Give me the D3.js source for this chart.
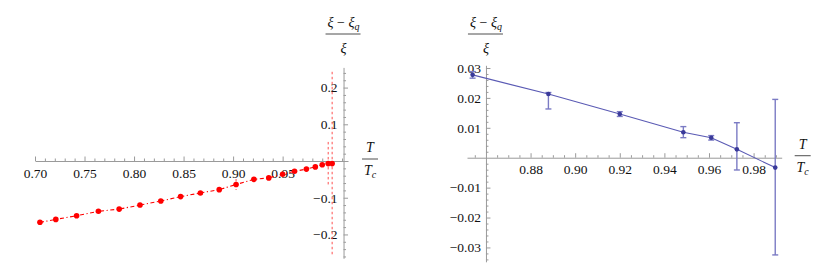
<!DOCTYPE html>
<html>
<head>
<meta charset="utf-8">
<style>
    body { margin: 0; background: #fff; }
    svg { display: block; font-family: 'Liberation Serif', 'DejaVu Serif', serif; }
    .lab { font-size: 14px; fill: #111; }
</style>
</head>
<body>
<svg width="830" height="273"></svg>
<script src="https://d3js.org/d3.v7.min.js"></script>
<script>
    // left panel: red dot-dashed series
    const leftT = [0.705, 0.721, 0.742, 0.764, 0.785, 0.806, 0.827, 0.847, 0.867, 0.886,
                   0.903, 0.921, 0.936, 0.950, 0.962, 0.974, 0.983, 0.990, 0.996, 1.000];
    const leftRatio = [-0.167, -0.159, -0.149, -0.137, -0.131, -0.120, -0.109, -0.097, -0.087, -0.078,
                       -0.064, -0.050, -0.046, -0.036, -0.028, -0.022, -0.016, -0.010, -0.007, -0.007];
    const leftErr = [0, 0, 0, 0, 0, 0, 0, 0, 0, 0,
                     0.015, 0, 0, 0, 0, 0, 0, 0, 0.059, 0.25];
    const leftXTicks = [0.70, 0.75, 0.80, 0.85, 0.90, 0.95];
    const leftYTicks = [-0.2, -0.1, 0.1, 0.2];

    // right panel: blue series with asymmetric error bars
    const rightT = [0.854, 0.888, 0.920, 0.9485, 0.961, 0.9725, 0.9897];
    const rightRatio = [0.0277, 0.0213, 0.0146, 0.0085, 0.0067, 0.0028, -0.0033];
    const rightErrHi = [0.0288, 0.0218, 0.0154, 0.0104, 0.0074, 0.0117, 0.0195];
    const rightErrLo = [0.0266, 0.0163, 0.0138, 0.0067, 0.0059, -0.0041, -0.0325];
    const rightXTicks = [0.88, 0.90, 0.92, 0.94, 0.96, 0.98];
    const rightYTicks = [-0.03, -0.02, -0.01, 0.01, 0.02, 0.03];

    const svg = d3.select("svg");
    const axisGrey = "#9a9a9a";

    function styleAxis(g) {
        g.selectAll(".domain").attr("stroke", axisGrey);
        g.selectAll(".tick line").attr("stroke", axisGrey);
        g.selectAll(".tick text")
            .attr("fill", "#111")
            .style("font-family", "'Liberation Serif', serif")
            .style("font-size", "13.5px");
    }

    function drawAxes(p) {
        let x0 = p.x(p.originX), y0 = p.y(0);

        // minor ticks first, then major ticks with labels
        svg.append("g")
            .attr("transform", `translate(0,${y0})`)
            .call(d3.axisBottom(p.x).tickValues(p.xMinor).tickSize(-2.5).tickSizeOuter(0).tickFormat(""))
            .call(styleAxis);
        svg.append("g")
            .attr("transform", `translate(0,${y0})`)
            .call(d3.axisBottom(p.x).tickValues(p.xTicks).tickSize(-4.5).tickSizeOuter(0).tickPadding(7)
                .tickFormat(d3.format(p.xFmt)))
            .call(g => g.select(".domain").remove())
            .call(styleAxis);

        svg.append("g")
            .attr("transform", `translate(${x0},0)`)
            .call(d3.axisLeft(p.y).tickValues(p.yMinor).tickSize(-2.5).tickSizeOuter(0).tickFormat(""))
            .call(styleAxis);
        svg.append("g")
            .attr("transform", `translate(${x0},0)`)
            .call(d3.axisLeft(p.y).tickValues(p.yTicks).tickSize(-4.5).tickSizeOuter(0).tickPadding(p.yPad)
                .tickFormat(d3.format(p.yFmt)))
            .call(g => g.select(".domain").remove())
            .call(styleAxis);

        // y label: (xi - xi_q) / xi
        let num = svg.append("text").attr("class", "lab")
            .attr("x", x0).attr("y", 27).attr("text-anchor", "middle");
        num.append("tspan").attr("font-style", "italic").text("ξ");
        num.append("tspan").text(" − ");
        num.append("tspan").attr("font-style", "italic").text("ξ");
        num.append("tspan").attr("font-style", "italic").attr("font-size", "10px").attr("dy", 3).text("q");
        svg.append("line").attr("x1", x0 - 18).attr("x2", x0 + 17).attr("y1", 34).attr("y2", 34)
            .attr("stroke", "#222").attr("stroke-width", 0.8);
        svg.append("text").attr("class", "lab").attr("font-style", "italic")
            .attr("x", x0).attr("y", 53).attr("text-anchor", "middle").text("ξ");

        // x label: T / T_c
        let xr = p.x.range()[1] + p.xLabGap;
        svg.append("text").attr("class", "lab").attr("font-style", "italic")
            .attr("x", xr).attr("y", y0 - 9).attr("text-anchor", "middle").text("T");
        svg.append("line").attr("x1", xr - 8).attr("x2", xr + 8).attr("y1", y0 - 2).attr("y2", y0 - 2)
            .attr("stroke", "#222").attr("stroke-width", 0.8);
        let tc = svg.append("text").attr("class", "lab")
            .attr("x", xr).attr("y", y0 + 14).attr("text-anchor", "middle");
        tc.append("tspan").attr("font-style", "italic").text("T");
        tc.append("tspan").attr("font-style", "italic").attr("font-size", "10px").attr("dy", 3).text("c");
    }

    // ---- left panel
    const xL = d3.scaleLinear().domain([0.70, 1.016]).range([35, 348]);
    const yL = d3.scaleLinear().domain([-0.265, 0.255]).range([258.3, 67.4]);

    drawAxes({
        x: xL, y: yL, originX: 1.0115,
        xTicks: leftXTicks, xMinor: d3.range(0.70, 1.0151, 0.01).filter(v => Math.abs(v * 20 - Math.round(v * 20)) > 1e-6),
        yTicks: leftYTicks, yMinor: d3.range(-0.26, 0.2501, 0.02).filter(v => Math.abs(v * 10 - Math.round(v * 10)) > 1e-6),
        xFmt: ".2f", yFmt: ".1f", yPad: 6, xLabGap: 22
    });

    const leftData = leftT.map((t, i) => ({ t: t, r: leftRatio[i], e: leftErr[i] }));

    svg.append("g").selectAll("line")
        .data(leftData.filter(d => d.e > 0))
        .join("line")
        .attr("x1", d => xL(d.t)).attr("x2", d => xL(d.t))
        .attr("y1", d => yL(d.r + d.e)).attr("y2", d => yL(d.r - d.e))
        .attr("stroke", "#ff5050").attr("stroke-width", 1).attr("stroke-dasharray", "2.5,2.5");

    svg.append("path")
        .datum(leftData)
        .attr("fill", "none")
        .attr("stroke", "#ff0000")
        .attr("stroke-width", 1.1)
        .attr("stroke-dasharray", "4,2.5,1.2,2.5")
        .attr("d", d3.line().x(d => xL(d.t)).y(d => yL(d.r)));

    svg.append("g").selectAll("circle")
        .data(leftData)
        .join("circle")
        .attr("cx", d => xL(d.t)).attr("cy", d => yL(d.r))
        .attr("r", 2.8).attr("fill", "#ff0000");

    // ---- right panel
    const xR = d3.scaleLinear().domain([0.8515, 0.9926]).range([467, 781.7]);
    const yR = d3.scaleLinear().domain([-0.0348, 0.0309]).range([261.8, 65.3]);

    drawAxes({
        x: xR, y: yR, originX: 0.86,
        xTicks: rightXTicks, xMinor: d3.range(0.855, 0.9901, 0.005).filter(v => Math.abs(v * 50 - Math.round(v * 50)) > 1e-6),
        yTicks: rightYTicks, yMinor: d3.range(-0.034, 0.0301, 0.002).filter(v => Math.abs(v * 100 - Math.round(v * 100)) > 1e-6),
        xFmt: ".2f", yFmt: ".2f", yPad: 5, xLabGap: 21
    });

    const rightData = rightT.map((t, i) => ({ t: t, r: rightRatio[i], hi: rightErrHi[i], lo: rightErrLo[i] }));

    const bars = svg.append("g").attr("stroke", "#7b7bc4").attr("stroke-width", 1.4);
    bars.selectAll(".v").data(rightData).join("line").attr("class", "v")
        .attr("x1", d => xR(d.t)).attr("x2", d => xR(d.t))
        .attr("y1", d => yR(d.hi)).attr("y2", d => yR(d.lo));
    bars.selectAll(".h").data(rightData).join("line").attr("class", "h")
        .attr("x1", d => xR(d.t) - 3).attr("x2", d => xR(d.t) + 3)
        .attr("y1", d => yR(d.hi)).attr("y2", d => yR(d.hi));
    bars.selectAll(".l").data(rightData).join("line").attr("class", "l")
        .attr("x1", d => xR(d.t) - 3).attr("x2", d => xR(d.t) + 3)
        .attr("y1", d => yR(d.lo)).attr("y2", d => yR(d.lo));

    svg.append("path")
        .datum(rightData)
        .attr("fill", "none")
        .attr("stroke", "#5a5ab4")
        .attr("stroke-width", 1.1)
        .attr("d", d3.line().x(d => xR(d.t)).y(d => yR(d.r)));

    svg.append("g").selectAll("circle")
        .data(rightData)
        .join("circle")
        .attr("cx", d => xR(d.t)).attr("cy", d => yR(d.r))
        .attr("r", 2.3).attr("fill", "#3a3a9a");
</script>
</body>
</html>
